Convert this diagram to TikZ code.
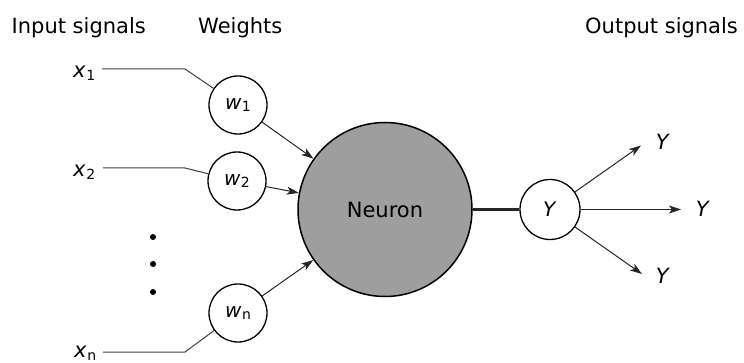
\documentclass[tikz,border=0pt]{standalone}
\usepackage{fontspec}
\setmainfont{DejaVu Sans}
\usetikzlibrary{arrows.meta}

% italic symbol with a small upright index set slightly low
\newcommand\symidx[2]{\textit{#1}\kern0.5pt\raisebox{-0.25ex}{\fontsize{14}{14}\selectfont #2}}

\tikzset{
  txt/.style={font=\fontsize{21}{25}\selectfont, inner sep=0pt},
  weight/.style={circle, draw=black, line width=1.3pt, fill=white,
    minimum size=58pt, inner sep=0pt, font=\fontsize{20}{24}\selectfont},
  neuronbody/.style={circle, draw=black, line width=1.5pt, fill=black!38,
    minimum size=174pt, inner sep=0pt, font=\fontsize{21}{25}\selectfont},
  feed/.style={draw=black!75, line width=1pt},
  signal/.style={draw=black!85, line width=1pt,
    -{Stealth[length=12pt, width=8pt, inset=3pt]}},
  axon/.style={draw=black!85, line width=2.4pt},
  dot/.style={circle, fill=black, minimum size=6pt, inner sep=0pt}
}

\begin{document}
\begin{tikzpicture}[x=1pt, y=-1pt]
\useasboundingbox (0,0) rectangle (744,363);

% column headings
\node[txt, anchor=base west] (hin)  at (11.5,34) {Input signals};
\node[txt, anchor=base west] (hw)   at (198,34)  {Weights};
\node[txt, anchor=base west] (hout) at (585,34)  {Output signals};

% neuron and weights
\node[neuronbody] (neuron) at (385,209.5) {Neuron};
\node[weight] (w1) at (238,105) {\symidx{w}{1}};
\node[weight] (w2) at (237,181) {\symidx{w}{2}};
\node[weight] (wn) at (238,313) {\symidx{w}{n}};
\node[weight, minimum size=60pt] (yout) at (550,209.5) {\textit{Y}};

% input labels
\node[txt, anchor=base west] (x1) at (73,78)  {\symidx{x}{1}};
\node[txt, anchor=base west] (x2) at (73,177) {\symidx{x}{2}};
\node[txt, anchor=base west] (xn) at (74,357.5) {\symidx{x}{n}};

% ellipsis between the inputs
\node[dot] (d1) at (153,237) {};
\node[dot] (d2) at (153,264) {};
\node[dot] (d3) at (153,292) {};

% input lines bending into the weights
\coordinate (x1s) at (102,69);  \coordinate (x1b) at (185,69);
\coordinate (x2s) at (103,168); \coordinate (x2b) at (185,168);
\coordinate (xns) at (103,352); \coordinate (xnb) at (185,352);
\draw[feed] (x1s) -- (x1b) -- (w1);
\draw[feed] (x2s) -- (x2b) -- (w2);
\draw[feed] (xns) -- (xnb) -- (wn);

% weighted signals into the neuron
\draw[signal] (w1) -- (neuron);
\draw[signal] (w2) -- (neuron);
\draw[signal] (wn) -- (neuron);

% neuron output
\draw[axon] (neuron) -- (yout);

% output branches
\coordinate (o1) at (641,145.5);
\coordinate (o2) at (681,209.5);
\coordinate (o3) at (642,274);
\draw[signal] (yout) -- (o1);
\draw[signal] (yout) -- (o2);
\draw[signal] (yout) -- (o3);
\node[txt] (y1) at (663,142) {\textit{Y}};
\node[txt] (y2) at (703,209) {\textit{Y}};
\node[txt] (y3) at (663,276) {\textit{Y}};
\end{tikzpicture}
\end{document}
